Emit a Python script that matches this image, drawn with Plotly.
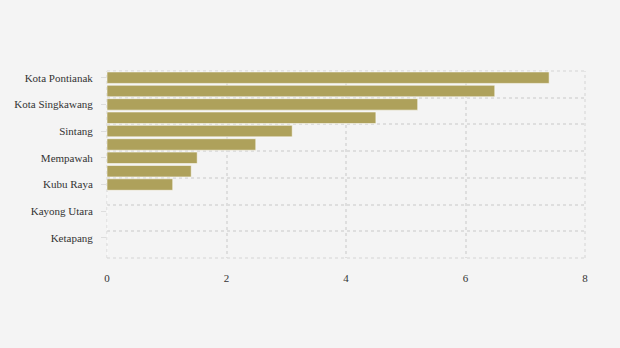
import plotly.graph_objects as go

# Regencies / cities, top to bottom
regions = [
    "Kota Pontianak", "Sambas", "Kota Singkawang", "Bengkayang", "Sintang",
    "Landak", "Mempawah", "Sanggau", "Kubu Raya", "Sekadau",
    "Kayong Utara", "Melawi", "Ketapang", "Kapuas Hulu",
]
values = [7.40, 6.49, 5.20, 4.50, 3.10, 2.49, 1.51, 1.41, 1.10, 0, 0, 0, 0, 0]
x_ticks = [0, 2, 4, 6, 8]

positions = list(range(len(regions)))
label_pos = positions[::2]
label_text = regions[::2]
band_edges = [p - 0.5 for p in positions[::2]] + [positions[-1] + 0.5]

grid_color = "#DEDEDE"
grid_dash = "3px,3px"

fig = go.Figure(
    go.Bar(
        x=values,
        y=positions,
        orientation="h",
        marker=dict(color="#AEA15B", line=dict(color="rgba(255,255,255,0.55)", width=1)),
        width=0.86,
        hoverinfo="x+text",
        text=regions,
        textposition="none",
    )
)

# Dashed frame around the plotting area (edge gridlines are not drawn by plotly)
frame = [
    dict(x0=0, x1=0, y0=0, y1=1),
    dict(x0=1, x1=1, y0=0, y1=1),
    dict(x0=0, x1=1, y0=0, y1=0),
    dict(x0=0, x1=1, y0=1, y1=1),
]
for seg in frame:
    fig.add_shape(
        type="line", xref="paper", yref="paper", layer="below",
        line=dict(color=grid_color, width=1.5, dash=grid_dash),
        **seg,
    )

fig.update_layout(
    width=620,
    height=348,
    margin=dict(l=107, r=35, t=71, b=90),
    paper_bgcolor="#F4F4F4",
    plot_bgcolor="#F4F4F4",
    font=dict(family="Liberation Serif, Times New Roman, serif", size=11, color="#333333"),
    showlegend=False,
    xaxis=dict(
        range=[0, 8],
        tickvals=x_ticks,
        ticktext=[str(v) for v in x_ticks],
        showgrid=True,
        gridcolor=grid_color,
        gridwidth=1.5,
        griddash=grid_dash,
        zeroline=False,
        showline=False,
        ticks="",
        ticklabelstandoff=12,
        fixedrange=True,
    ),
    yaxis=dict(
        range=[positions[-1] + 0.5, -0.5],
        tickvals=label_pos,
        ticktext=label_text,
        showgrid=False,
        zeroline=False,
        showline=False,
        ticks="outside",
        ticklen=5,
        tickcolor="#DDDDDD",
        ticklabelstandoff=6,
        minor=dict(
            tickvals=band_edges,
            showgrid=True,
            gridcolor=grid_color,
            gridwidth=1.5,
            griddash=grid_dash,
            ticks="",
        ),
        fixedrange=True,
    ),
)

fig.write_html("out.html")
